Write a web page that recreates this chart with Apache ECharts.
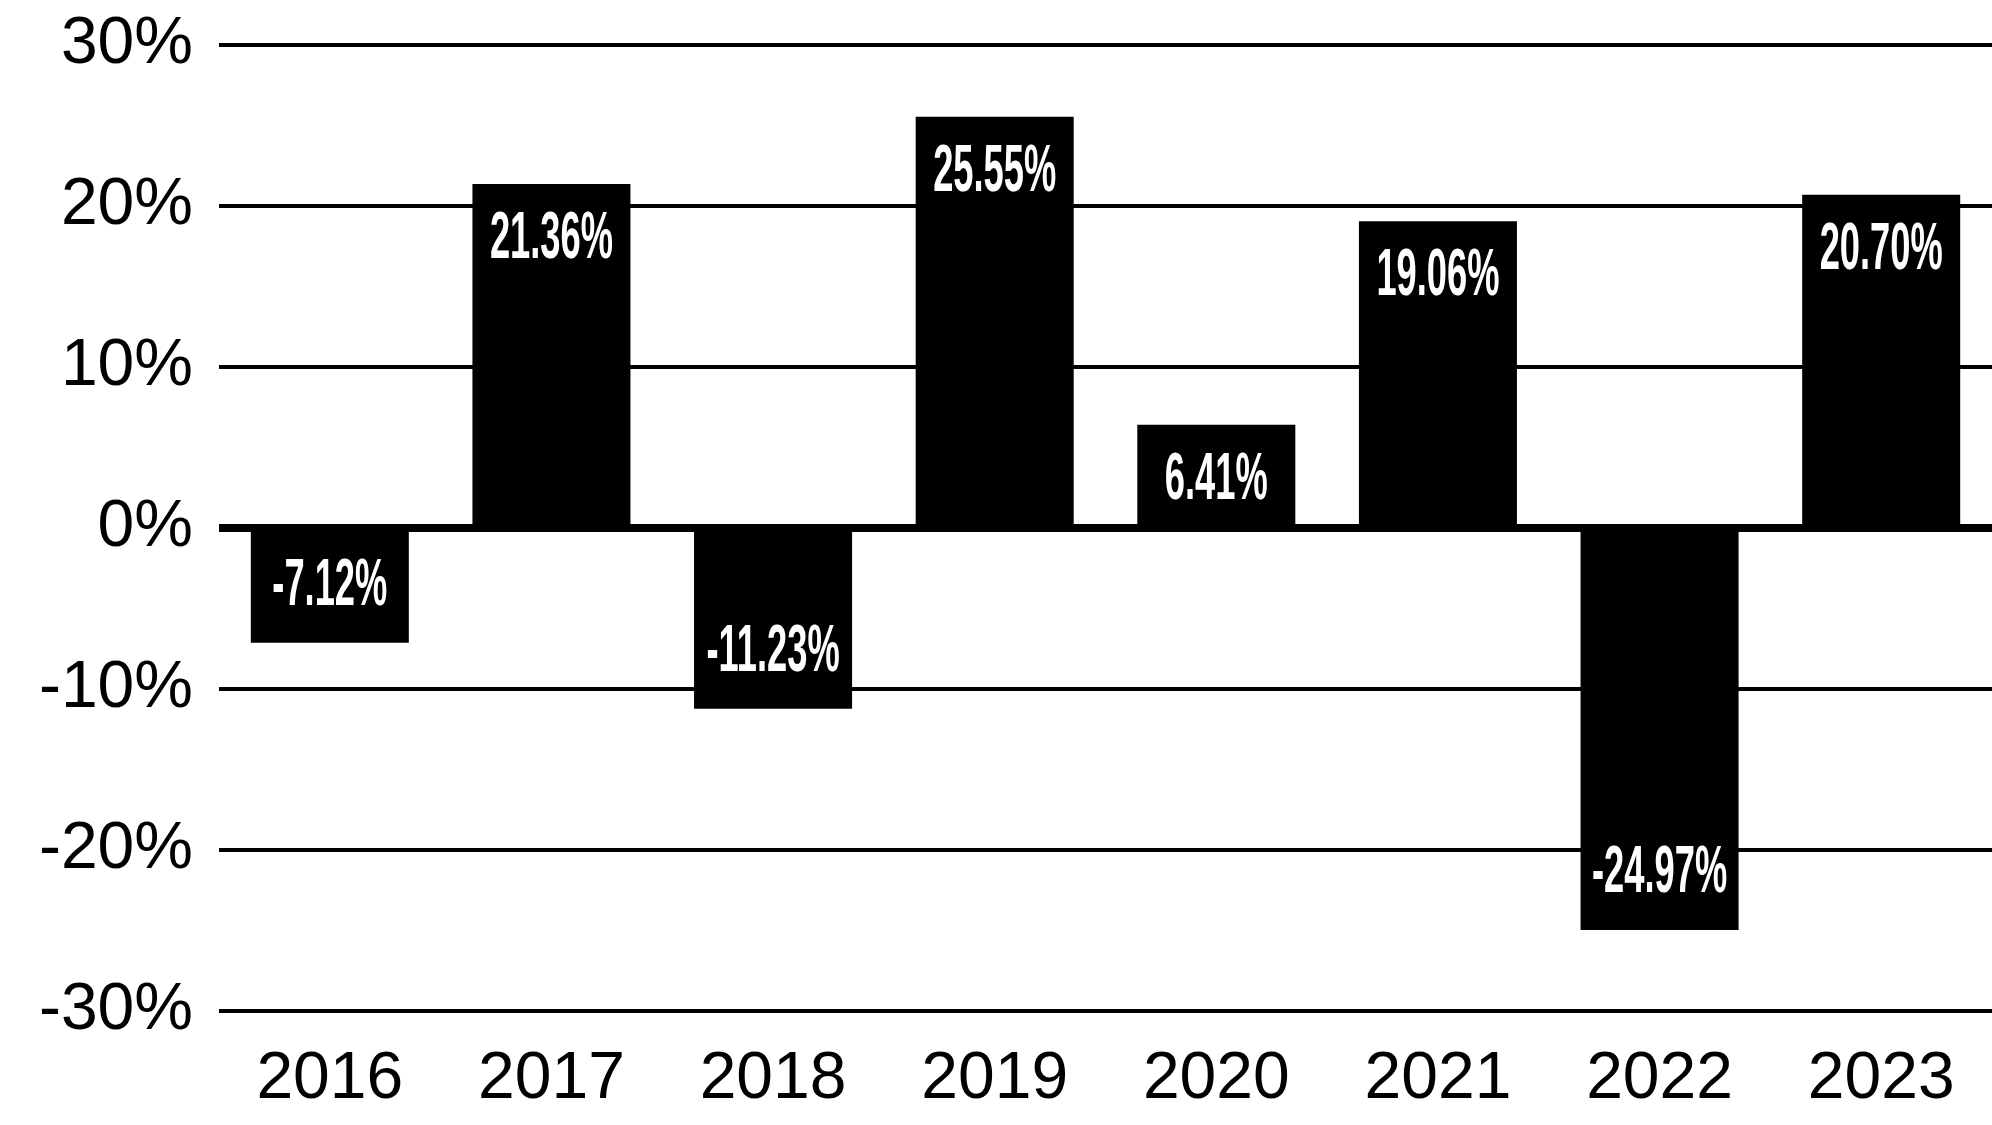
<!DOCTYPE html>
<html>
<head>
<meta charset="utf-8">
<script src="https://cdn.jsdelivr.net/npm/echarts@6/dist/echarts.min.js"></script>
<style>
html,body{margin:0;padding:0;background:#fff;}
#chart{width:1992px;height:1125px;}
</style>
</head>
<body>
<div id="chart"></div>
<script>
var years = ['2016','2017','2018','2019','2020','2021','2022','2023'];
var returns = [-7.12, 21.36, -11.23, 25.55, 6.41, 19.06, -24.97, 20.70];
var yTicks = { min: -30, max: 30, interval: 10 };

var chart = echarts.init(document.getElementById('chart'), null, { renderer: 'canvas' });

var labelData = returns.map(function (v, i) { return [i, v]; });

chart.setOption({
  animation: false,
  backgroundColor: '#ffffff',
  grid: { left: 219, right: 0, top: 45, bottom: 114, containLabel: false },
  xAxis: {
    type: 'category',
    data: years,
    axisLine: { show: false, onZero: false },
    axisTick: { show: false },
    axisLabel: {
      color: '#000', fontSize: 66, fontFamily: 'Liberation Sans', margin: 36
    }
  },
  yAxis: {
    type: 'value',
    min: yTicks.min, max: yTicks.max, interval: yTicks.interval,
    axisLine: { show: false },
    axisTick: { show: false },
    splitLine: { show: true, lineStyle: { color: '#000', width: 4 } },
    axisLabel: {
      color: '#000', fontSize: 66, fontFamily: 'Liberation Sans', margin: 26,
      padding: [10, 0, 0, 0],
      formatter: '{value}%'
    }
  },
  series: [
    {
      type: 'bar',
      data: returns,
      barWidth: '71.3%',
      itemStyle: { color: '#000' },
      z: 2,
      markLine: {
        silent: true,
        symbol: 'none',
        label: { show: false },
        lineStyle: { color: '#000', width: 8, type: 'solid' },
        data: [{ yAxis: 0 }]
      }
    },
    {
      type: 'custom',
      data: labelData,
      z: 5,
      silent: true,
      renderItem: function (params, api) {
        var idx = api.value(0);
        var val = api.value(1);
        var end = api.coord([idx, val]);
        var dir = val >= 0 ? 1 : -1;
        return {
          type: 'text',
          x: end[0],
          y: end[1] + dir * 56,
          scaleX: 0.55,
          scaleY: 1,
          style: {
            x: 0, y: 0,
            text: val.toFixed(2) + '%',
            fill: '#fff',
            fontSize: 66,
            fontWeight: 'bold',
            fontFamily: 'Liberation Sans',
            align: 'center',
            verticalAlign: 'middle'
          }
        };
      }
    }
  ]
});
</script>
</body>
</html>
